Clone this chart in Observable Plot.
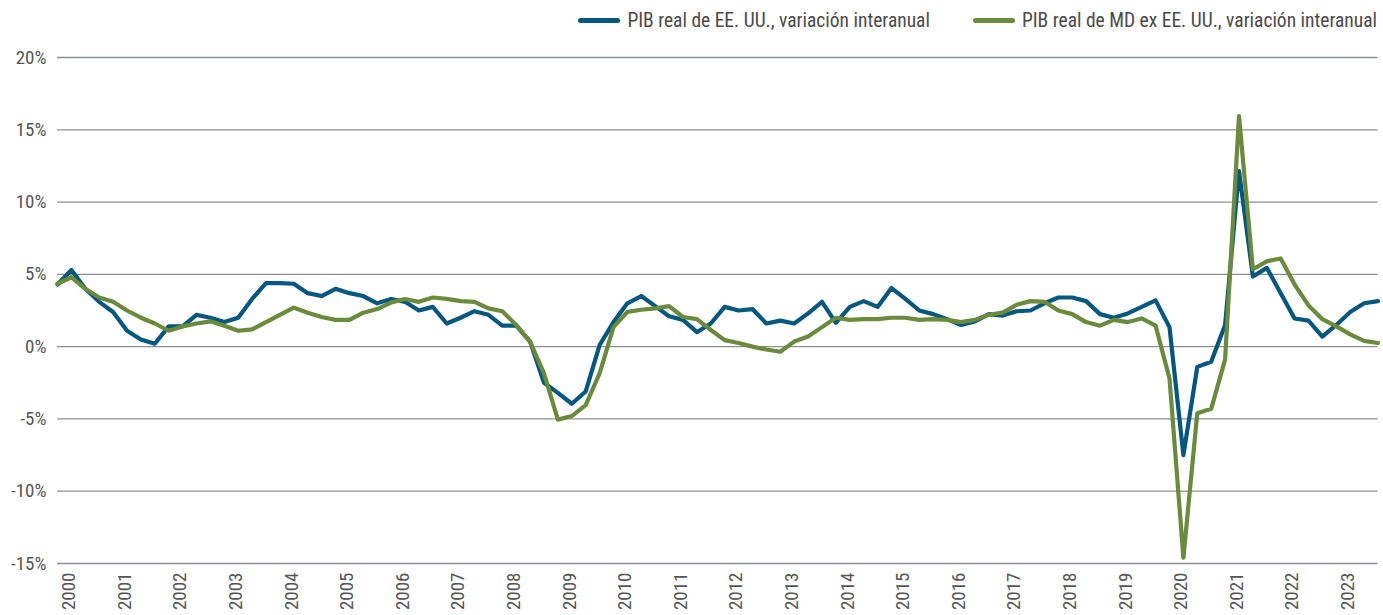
<!DOCTYPE html>
<html><head><meta charset="utf-8">
<script src="https://cdn.jsdelivr.net/npm/d3@7"></script>
<script src="https://cdn.jsdelivr.net/npm/@observablehq/plot@0.6"></script>
<style>
body{margin:0;background:#fff;width:1383px;height:615px;overflow:hidden;}
#legend{height:40px;display:flex;justify-content:flex-end;align-items:center;padding-right:6px;box-sizing:border-box;
  font-family:"Roboto Condensed","Liberation Sans Narrow","DejaVu Sans Condensed",Roboto,sans-serif;font-stretch:condensed;font-size:19.5px;color:#4a4a4a;}
.item{display:flex;align-items:center;margin-left:43px;}
.sw{width:42px;height:5px;border-radius:3px;margin-right:7px;}
svg text{font-family:"Roboto Condensed","Liberation Sans Narrow","DejaVu Sans Condensed",Roboto,sans-serif;font-stretch:condensed;}
</style></head><body>
<div id="legend"></div><div id="chart"></div>
<script>
const years = d3.range(2000, 2024);
const quarterNames = ["Q1","Q2","Q3","Q4"];
const quarters = years.flatMap(y => quarterNames.map(q => `${y}${q}`));

const usGdp = [
 4.3,5.3,4.0,3.1, 2.4,1.1,0.5,0.2, 1.4,1.4,2.2,2.0, 1.7,2.0,3.3,4.4,
 4.4,4.35,3.7,3.5, 4.0,3.7,3.5,3.0, 3.3,3.1,2.5,2.75, 1.6,2.0,2.45,2.2,
 1.45,1.45,0.35,-2.5, -3.2,-3.95,-3.1,0.1, 1.7,3.0,3.5,2.8, 2.1,1.85,1.0,1.6,
 2.75,2.5,2.6,1.6, 1.8,1.6,2.3,3.1, 1.65,2.75,3.15,2.75, 4.05,3.3,2.5,2.25,
 1.9,1.5,1.75,2.25, 2.15,2.45,2.5,3.0, 3.4,3.4,3.15,2.25, 2.0,2.3,2.75,3.2,
 1.35,-7.5,-1.4,-1.05, 1.5,12.15,4.85,5.45, 3.7,1.95,1.8,0.7, 1.5,2.4,3.0,3.15
];
const dmExUsGdp = [
 4.35,4.8,4.0,3.4, 3.1,2.5,2.0,1.6, 1.1,1.4,1.6,1.75, 1.45,1.1,1.2,1.7,
 2.2,2.7,2.35,2.05, 1.85,1.85,2.35,2.6, 3.05,3.3,3.1,3.4, 3.3,3.15,3.1,2.65,
 2.45,1.5,0.35,-1.85, -5.05,-4.8,-4.05,-1.85, 1.35,2.4,2.55,2.65, 2.8,2.05,1.9,1.15,
 0.45,0.25,0.0,-0.2, -0.35,0.35,0.7,1.35, 2.0,1.85,1.9,1.9, 2.0,2.0,1.85,1.9,
 1.85,1.7,1.85,2.2, 2.35,2.9,3.15,3.1, 2.5,2.25,1.7,1.45, 1.85,1.7,1.95,1.45,
 -2.2,-14.6,-4.6,-4.3, -0.9,15.95,5.35,5.9, 6.1,4.3,2.85,1.9, 1.4,0.85,0.4,0.25
];
const yTicks = [-15,-10,-5,0,5,10,15,20];
const seriesNames = ["PIB real de EE. UU., variación interanual","PIB real de MD ex EE. UU., variación interanual"];
const seriesColors = ["#04577f","#6a8a3c"];

const toT = q => +q.slice(0,4) + (quarterNames.indexOf(q.slice(4))) / 4;
const rows = [usGdp, dmExUsGdp].flatMap((vals, s) =>
  quarters.map((q, i) => ({q, t: toT(q), v: vals[i], s: seriesNames[s]})));

// legend
const legend = document.getElementById("legend");
seriesNames.forEach((n, i) => {
  const it = document.createElement("div"); it.className = "item";
  it.innerHTML = `<span class="sw" style="background:${seriesColors[i]}"></span><span>${n}</span>`;
  legend.appendChild(it);
});

const labelShift = 0.21;
const chart = Plot.plot({
  width: 1383, height: 575,
  marginTop: 17, marginBottom: 52, marginLeft: 57, marginRight: 5.5,
  x: {type: "linear", domain: [2000, 2023.75]},
  y: {domain: [-15, 20]},
  color: {domain: seriesNames, range: seriesColors},
  style: {fontSize: "19px", color: "#555"},
  marks: [
    Plot.ruleY(yTicks, {stroke: "#8c8f94", strokeWidth: 1.3}),
    Plot.axisY(yTicks, {tickSize: 0, tickPadding: 11, tickFormat: d => d + "%", fontSize: 19, fill: "#555", label: null}),
    Plot.axisX(years.map(y => y + labelShift), {tickSize: 0, tickPadding: 9, tickRotate: -90, fontSize: 19, fill: "#555",
      tickFormat: d => String(Math.round(d - labelShift)), label: null}),
    Plot.line(rows, {x: "t", y: "v", z: "s", stroke: "s", strokeWidth: 4.2, strokeLinejoin: "round", strokeLinecap: "round"})
  ]
});
document.getElementById("chart").appendChild(chart);
</script>
</body></html>
